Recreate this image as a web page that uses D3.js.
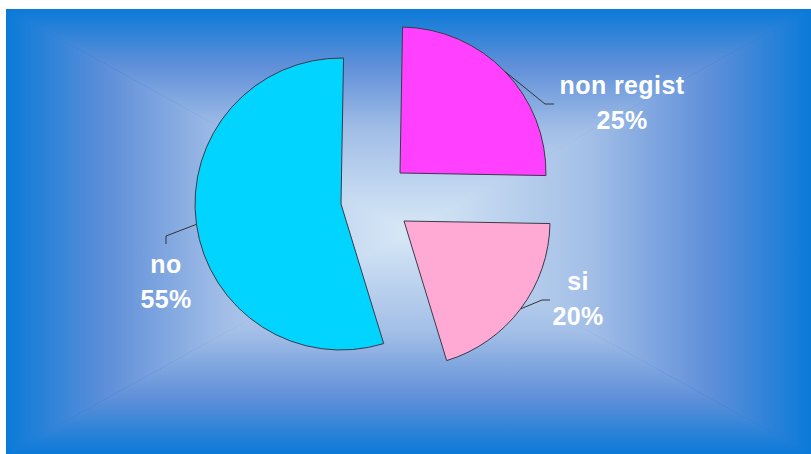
<!DOCTYPE html>
<html>
<head>
<meta charset="utf-8">
<script src="https://cdn.jsdelivr.net/npm/d3@7"></script>
<style>
  body { margin: 0; background: #fff; }
  #T { width: 811px; height: 454px; }
</style>
</head>
<body>
<div id="T"></div>
<script>
const categories = ["non regist", "si", "no"];
const values = [25, 20, 55];
const colors = ["#ff40ff", "#ffaad4", "#00d4ff"];

const parent = d3.select('#T');
const width = 811, height = 454;
const SVG = parent.append('svg')
    .attr("width", width)
    .attr("height", height);

// background: rectangular gradient, edges blue -> light centre
const bx = 6, by = 9, bw = width - bx, bh = height - by;
const mx = bx + bw / 2, my = by + bh / 2;
const defs = SVG.append("defs");
const stops = [[0, "#0a7ad8"], [0.25, "#5f8fd9"], [0.55, "#a3bfe7"], [1, "#d8e8f6"]];
const sides = [
  { id: "gT", x1: mx, y1: by, x2: mx, y2: my, pts: [[bx, by], [bx + bw, by], [mx, my]] },
  { id: "gB", x1: mx, y1: by + bh, x2: mx, y2: my, pts: [[bx, by + bh], [bx + bw, by + bh], [mx, my]] },
  { id: "gL", x1: bx, y1: my, x2: mx, y2: my, pts: [[bx, by], [bx, by + bh], [mx, my]] },
  { id: "gR", x1: bx + bw, y1: my, x2: mx, y2: my, pts: [[bx + bw, by], [bx + bw, by + bh], [mx, my]] }
];
// radial base under the triangles so the seams don't show through
const rg = defs.append("radialGradient").attr("id", "gBase")
    .attr("gradientUnits", "userSpaceOnUse")
    .attr("cx", mx).attr("cy", my).attr("r", bw / 2)
    .attr("gradientTransform", `translate(${mx},${my}) scale(1,${bh / bw}) translate(${-mx},${-my})`);
stops.slice().reverse().forEach(st => rg.append("stop").attr("offset", 1 - st[0]).attr("stop-color", st[1]));
SVG.append("rect").attr("x", bx).attr("y", by).attr("width", bw).attr("height", bh)
    .attr("fill", "url(#gBase)");
sides.forEach(s => {
  const g = defs.append("linearGradient").attr("id", s.id)
      .attr("gradientUnits", "userSpaceOnUse")
      .attr("x1", s.x1).attr("y1", s.y1).attr("x2", s.x2).attr("y2", s.y2);
  stops.forEach(st => g.append("stop").attr("offset", st[0]).attr("stop-color", st[1]));
  SVG.append("polygon")
      .attr("points", s.pts.map(p => p.join(",")).join(" "))
      .attr("fill", "url(#" + s.id + ")");
});

// pie
const cx = 375, cy = 198, r = 146;
const rot = 1.0 * Math.PI / 180;
const explode = [[25, -25], [29, 23], [-34, 6]];
const pie = d3.pie().sort(null).value(d => d).startAngle(rot).endAngle(2 * Math.PI + rot);
const arc = d3.arc().innerRadius(0).outerRadius(r);
const arcs = pie(values);

const gPie = SVG.append("g").attr("transform", `translate(${cx},${cy})`);
gPie.selectAll("path.slice")
    .data(arcs)
    .join("path")
    .attr("class", "slice")
    .attr("transform", (d, i) => `translate(${explode[i][0]},${explode[i][1]})`)
    .attr("d", arc)
    .attr("fill", (d, i) => colors[i])
    .attr("stroke", "#3a3a4a")
    .attr("stroke-width", 1);

// labels + leader lines
const labelPos = [[622, 94], [578, 290], [166, 273]];
const elbow = [[545, 104, 554, 104], [542, 300, 550, 300], [166, 236, 166, 244]];
const pct = d3.format(".0%");
const total = d3.sum(values);

arcs.forEach((d, i) => {
  const a = (d.startAngle + d.endAngle) / 2;
  const sx = cx + explode[i][0] + Math.sin(a) * r;
  const sy = cy + explode[i][1] - Math.cos(a) * r;
  const e = elbow[i];
  SVG.append("polyline")
      .attr("points", `${sx},${sy} ${e[0]},${e[1]} ${e[2]},${e[3]}`)
      .attr("fill", "none")
      .attr("stroke", "#333")
      .attr("stroke-width", 1);
  const t = SVG.append("text")
      .attr("x", labelPos[i][0])
      .attr("y", labelPos[i][1])
      .attr("text-anchor", "middle")
      .attr("fill", "#fff")
      .style("font-family", "'Liberation Sans', Arial, sans-serif")
      .style("font-weight", "bold")
      .style("font-size", "25px")
      .style("letter-spacing", "0.4px");
  t.append("tspan").attr("x", labelPos[i][0]).text(categories[i]);
  t.append("tspan").attr("x", labelPos[i][0]).attr("dy", 35).text(pct(values[i] / total));
});
</script>
</body>
</html>
